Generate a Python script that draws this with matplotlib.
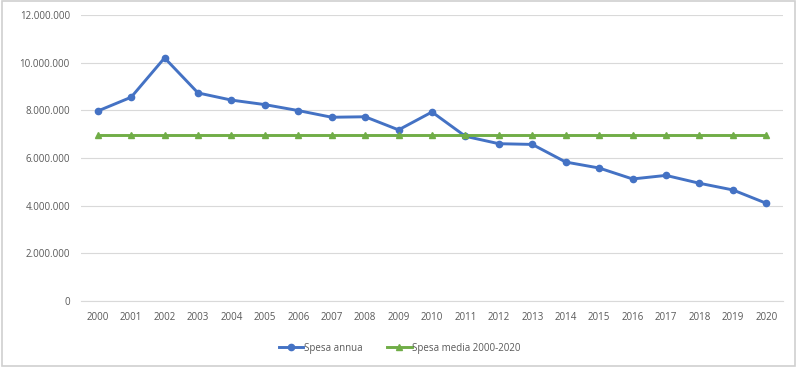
import matplotlib.pyplot as plt
from matplotlib.ticker import FuncFormatter
from matplotlib.patches import Rectangle

anni = ['2000', '2001', '2002', '2003', '2004', '2005', '2006', '2007', '2008', '2009', '2010',
        '2011', '2012', '2013', '2014', '2015', '2016', '2017', '2018', '2019', '2020']
spesa_annua = [7970000, 8550000, 10200000, 8730000, 8430000, 8240000, 7990000, 7710000, 7730000,
               7180000, 7930000, 6910000, 6600000, 6570000, 5830000, 5580000, 5120000, 5270000,
               4940000, 4660000, 4100000]
spesa_media = [6960000, 6960000, 6960000, 6960000, 6960000, 6960000, 6960000, 6960000, 6960000,
               6960000, 6960000, 6960000, 6960000, 6960000, 6960000, 6960000, 6960000, 6960000,
               6960000, 6960000, 6960000]
y_ticks = [0, 2000000, 4000000, 6000000, 8000000, 10000000, 12000000]

plt.rcParams['font.family'] = ['Open Sans', 'DejaVu Sans']
grey = '#595959'

fig = plt.figure(figsize=(7.97, 3.67), dpi=100)
ax = fig.add_axes([81 / 797, 1 - 301 / 367, (783 - 81) / 797, (301 - 15) / 367])

x = range(len(anni))
ax.plot(x, spesa_annua, color='#4472C4', lw=2.1, marker='o', ms=4.5, label='Spesa annua')
ax.plot(x, spesa_media, color='#70AD47', lw=2.1, marker='^', ms=4.5, label='Spesa media 2000-2020')

ax.set_xlim(-0.5, len(anni) - 0.5)
ax.set_ylim(0, 12000000)
ax.set_xticks(list(x))
ax.set_xticklabels(anni)
ax.set_yticks(y_ticks)
# separatore migliaia all'italiana
ax.yaxis.set_major_formatter(FuncFormatter(lambda v, p: f'{int(v):,}'.replace(',', '.')))
ax.tick_params(length=0, labelsize=7, colors=grey, pad=8)
ax.grid(axis='y', color='#D9D9D9', lw=0.8)
ax.set_axisbelow(True)
for s in ['top', 'right', 'left']:
    ax.spines[s].set_visible(False)
ax.spines['bottom'].set_color('#D9D9D9')

leg = fig.legend(loc='center', bbox_to_anchor=(400 / 797, 1 - 348 / 367), ncol=2, frameon=False,
                 fontsize=7, handlelength=2.5, columnspacing=2.5, handletextpad=0.1)
for t in leg.get_texts():
    t.set_color(grey)

fig.patches.append(Rectangle((0.002, 0.002), 0.996, 0.994, transform=fig.transFigure,
                             fill=False, edgecolor='#D0D0D0', lw=1.2))

fig.savefig('out.png', dpi=100)
